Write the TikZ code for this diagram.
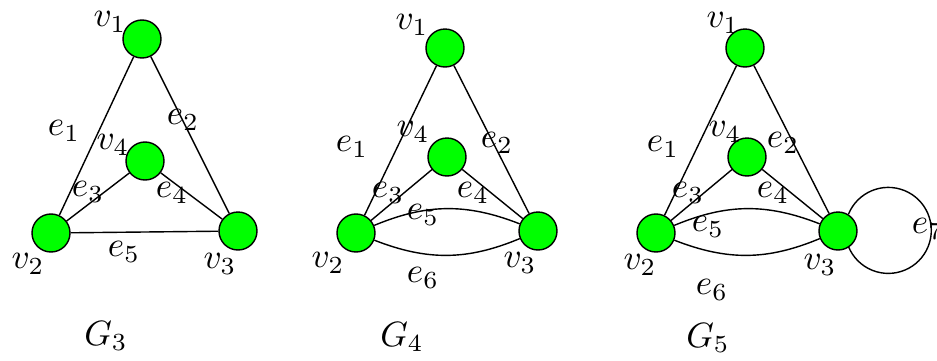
\documentclass[tikz,border=0pt]{standalone}
\usepackage{amsmath}
\usepackage{tikz}

\begin{document}
\begin{tikzpicture}

% Styles
\tikzset{
  vertex/.style={circle, draw, fill=green, minimum size=0.38cm, inner sep=0pt},
  lbl/.style={inner sep=0pt}
}

\useasboundingbox (0,0) rectangle (9.37,3.60);

% G_3
\node[vertex] (a1) at (1.42,3.21) {};
\node[vertex] (a4) at (1.45,1.99) {};
\node[vertex] (a2) at (0.51,1.27) {};
\node[vertex] (a3) at (2.38,1.29) {};

\draw (a1) -- (a2);
\draw (a1) -- (a3);
\draw (a2) -- (a4);
\draw (a4) -- (a3);
\draw (a2) -- (a3);

\node[lbl] (la1) at (1.10,3.38) {$v_1$};
\node[lbl] (la4) at (1.13,2.15) {$v_4$};
\node[lbl] (la2) at (0.28,0.96) {$v_2$};
\node[lbl] (la3) at (2.20,0.96) {$v_3$};
\node[lbl] (ea1) at (0.64,2.29) {$e_1$};
\node[lbl] (ea2) at (1.83,2.40) {$e_2$};
\node[lbl] (ea3) at (0.88,1.68) {$e_3$};
\node[lbl] (ea4) at (1.72,1.67) {$e_4$};
\node[lbl] (ea5) at (1.24,1.08) {$e_5$};
\node[lbl] (ga) at (1.06,0.24) {$G_3$};

% G_4
\node[vertex] (b1) at (4.45,3.12) {};
\node[vertex] (b4) at (4.47,2.03) {};
\node[vertex] (b2) at (3.56,1.27) {};
\node[vertex] (b3) at (5.38,1.29) {};

\draw (b1) -- (b2);
\draw (b1) -- (b3);
\draw (b2) -- (b4);
\draw (b4) -- (b3);
\draw (b2) to[bend left=22] (b3);
\draw (b2) to[bend right=22] (b3);

\node[lbl] (lb1) at (4.12,3.35) {$v_1$};
\node[lbl] (lb4) at (4.13,2.28) {$v_4$};
\node[lbl] (lb2) at (3.28,0.97) {$v_2$};
\node[lbl] (lb3) at (5.20,0.97) {$v_3$};
\node[lbl] (eb1) at (3.52,2.13) {$e_1$};
\node[lbl] (eb2) at (4.97,2.17) {$e_2$};
\node[lbl] (eb3) at (3.88,1.67) {$e_3$};
\node[lbl] (eb4) at (4.73,1.67) {$e_4$};
\node[lbl] (eb5) at (4.23,1.45) {$e_5$};
\node[lbl] (eb6) at (4.23,0.82) {$e_6$};
\node[lbl] (gb) at (4.02,0.23) {$G_4$};

% G_5
\node[vertex] (c1) at (7.45,3.12) {};
\node[vertex] (c4) at (7.47,2.03) {};
\node[vertex] (c2) at (6.56,1.27) {};
\node[vertex] (c3) at (8.38,1.29) {};

\draw (c1) -- (c2);
\draw (c1) -- (c3);
\draw (c2) -- (c4);
\draw (c4) -- (c3);
\draw (c2) to[bend left=22] (c3);
\draw (c2) to[bend right=22] (c3);
\draw (c3.58) arc[start angle=158, end angle=-158, radius=0.43]; % loop e_7

\node[lbl] (lc1) at (7.23,3.37) {$v_1$};
\node[lbl] (lc4) at (7.25,2.28) {$v_4$};
\node[lbl] (lc2) at (6.40,0.95) {$v_2$};
\node[lbl] (lc3) at (8.20,0.95) {$v_3$};
\node[lbl] (ec1) at (6.63,2.13) {$e_1$};
\node[lbl] (ec2) at (7.83,2.17) {$e_2$};
\node[lbl] (ec3) at (6.88,1.67) {$e_3$};
\node[lbl] (ec4) at (7.73,1.67) {$e_4$};
\node[lbl] (ec5) at (7.08,1.33) {$e_5$};
\node[lbl] (ec6) at (7.12,0.70) {$e_6$};
\node[lbl] (ec7) at (9.28,1.31) {$e_7$};
\node[lbl] (gc) at (7.08,0.22) {$G_5$};

\end{tikzpicture}
\end{document}
